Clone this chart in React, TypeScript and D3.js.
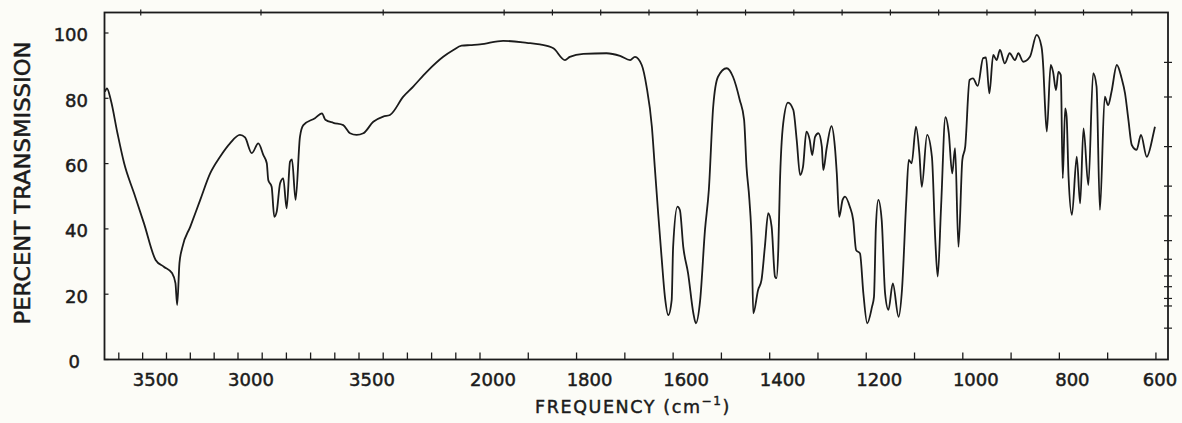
import React from "react";
import * as d3 from "d3";

// IR spectrum
const wavenumber = [
  3698, 3687, 3667, 3632, 3597, 3545, 3493, 3432, 3389, 3345, 3328, 3319, 3307, 3293, 3250, 3198,
  3146, 3094, 3042, 2992, 2971, 2943, 2916, 2895, 2881, 2875, 2861, 2850, 2840, 2826, 2813, 2799,
  2785, 2777, 2762, 2744, 2730, 2682, 2653, 2639, 2606, 2565, 2537, 2510, 2482, 2441, 2400, 2372,
  2317, 2276, 2220, 2152, 2110, 2076, 2041, 2000, 1952, 1903, 1876, 1848, 1824, 1814, 1786, 1738,
  1710, 1689, 1679, 1665, 1655, 1644, 1638, 1631, 1624, 1617, 1610, 1603, 1600, 1591, 1586, 1579,
  1569, 1558, 1553, 1544, 1534, 1526, 1517, 1507, 1489, 1476, 1462, 1453, 1448, 1442, 1437, 1434,
  1424, 1417, 1410, 1403, 1396, 1389, 1386, 1382, 1379, 1372, 1362, 1351, 1344, 1337, 1331, 1324,
  1317, 1312, 1306, 1299, 1292, 1289, 1282, 1272, 1265, 1261, 1256, 1249, 1244, 1234, 1227, 1221,
  1213, 1206, 1198, 1188, 1184, 1180, 1175, 1168, 1161, 1154, 1145, 1133, 1126, 1117, 1112, 1106,
  1097, 1090, 1085, 1074, 1064, 1057, 1052, 1045, 1036, 1029, 1022, 1016, 1009, 1001, 995, 986,
  979, 969, 958, 952, 945, 937, 930, 923, 913, 903, 892, 885, 875, 861, 847, 837,
  833, 830, 826, 818, 813, 807, 802, 797, 793, 788, 785, 781, 774, 764, 757, 750,
  740, 730, 723, 716, 706, 699, 692, 681, 671, 664, 657, 650, 640, 631, 619, 605, 602,
];

const transmission = [
  82, 83, 79.5, 69.3, 60.1, 50.9, 41.7, 30.5, 28.4, 26.4, 23.4, 16.7, 29.5, 34.1, 40.7, 48.9,
  57.0, 62.1, 66.2, 68.8, 68.0, 63.2, 66.2, 62.6, 60.1, 55, 52.9, 43.7, 45.3, 54, 55.5, 46.3,
  60.6, 61.3, 48.9, 68.2, 71.8, 73.9, 75.4, 73.4, 72.5, 71.8, 69.3, 68.8, 69.3, 72.8, 74.4, 74.9,
  80.5, 83.6, 88.1, 92.7, 94.8, 96.1, 96.3, 96.5, 97.6, 97.0, 96.5, 95.3, 91.7, 92.7, 93.6, 93.8,
  93.0, 91.7, 92.7, 90.2, 83.6, 71.3, 59.0, 44.8, 31.5, 19.2, 13.6, 18.2, 34.5, 46.8, 45.8, 34.5,
  26.4, 14.1, 11.1, 18.2, 39.7, 52, 77.4, 86.6, 89.2, 86.6, 79.5, 73.4, 59.0, 48.9, 34.5, 14.1,
  21.3, 24.3, 34.5, 44.8, 40.7, 25.4, 24.9, 34.5, 53, 72.3, 78.7, 76.4, 67.2, 56.5, 59.0, 69.8,
  67.2, 62.6, 68.2, 69.3, 65.2, 58.0, 64.7, 71.5, 65.2, 57, 43.7, 48.9, 49.9, 46.8, 42.7, 33.5,
  32.5, 20.3, 11.1, 16.2, 19.2, 40.7, 48.9, 42.7, 20.3, 15.2, 23.3, 13.1, 21.3, 48.9, 61.1, 60.1,
  71.3, 63.2, 52.9, 68.8, 62.1, 36.6, 25.4, 46.8, 74.2, 69.3, 57, 64.7, 34.5, 61.1, 65.2, 85.6,
  86.1, 83.8, 92.3, 92.5, 81.5, 93.3, 91.7, 94.8, 90.7, 93.8, 91.7, 93.8, 91.2, 92.7, 99.4, 95.8,
  88.7, 78.5, 69.8, 90.2, 88.1, 82.5, 88.1, 87.1, 55.5, 76.9, 74.4, 56, 44.3, 62.1, 47.8, 70.8,
  53.4, 87.7, 83.6, 45.8, 80.5, 77.9, 82, 90.2, 86.1, 81.5, 73.4, 65.7, 64.2, 68.8, 62.1, 69.3, 71.3,
];

// bottom axis: labelled ticks (labels as printed on the chart)
const xLabelValues = [3500, 3000, 2500, 2000, 1800, 1600, 1400, 1200, 1000, 800, 600];
const xLabels = ["3500", "3000", "3500", "2000", "1800", "1600", "1400", "1200", "1000", "800", "600"];
// small ticks along the bottom
const xMinorTicks = [3625, 3500, 3375, 3250, 3125, ...d3.range(3000, 599, -100)];
// ticks on the top edge
const xTopTicks = [3510, 2905, 2400, 1950, 1850, 1750, 1650, 1550, 1450, 1350, 1250, 1150, 1050, 950, 850, 750, 650];

const yTicks = [0, 20, 40, 60, 80, 100];
// uneven ticks on the right edge (absorbance scale), in %T
const yRightTicks = [91, 80.4, 65.2, 53.1, 44.0, 36.4, 30.7, 25.6, 22.3, 18.7, 16.4, 9.6];

const W = 1182;
const H = 423;
const left = 104.5;
const right = 1168;
const top = 12.5;
const bottom = 359.5;
const ink = "#1b1b1b";
const font = "'DejaVu Sans', 'Liberation Sans', sans-serif";

export default function App() {
  // chart paper: compressed scale above 2000 cm-1
  const x = d3.scaleLinear().domain([3700, 3000, 2000, 575]).range([left, 238, 480, right]);
  const y = d3.scaleLinear().domain([0, 100]).range([bottom, 33]);

  const points = wavenumber.map((w, i) => [w, transmission[i]] as [number, number]);
  const line = d3
    .line<[number, number]>()
    .x(d => x(d[0]))
    .y(d => y(d[1]))
    .curve(d3.curveMonotoneX);

  return (
    <svg
      width={W}
      height={H}
      style={{ position: "absolute", left: 0, top: 0, display: "block", background: "#fcfcf7" }}
    >
      {/* frame */}
      <rect x={left} y={top} width={right - left} height={bottom - top} fill="none" stroke={ink} strokeWidth={1.8} />

      {/* bottom ticks */}
      {xMinorTicks.map(t => (
        <line key={"b" + t} x1={x(t)} x2={x(t)} y1={bottom} y2={bottom - 7} stroke={ink} strokeWidth={1.3} />
      ))}
      {/* top ticks */}
      {xTopTicks.map(t => (
        <line key={"t" + t} x1={x(t)} x2={x(t)} y1={top - 3} y2={top + 3} stroke={ink} strokeWidth={1.2} />
      ))}
      {/* left ticks */}
      {yTicks.map(t => (
        <line key={"l" + t} x1={left} x2={left + 4} y1={y(t)} y2={y(t)} stroke={ink} strokeWidth={1.2} />
      ))}
      {/* right ticks */}
      {yRightTicks.map(t => (
        <line key={"r" + t} x1={right - 4} x2={right + 4} y1={y(t)} y2={y(t)} stroke={ink} strokeWidth={1.2} />
      ))}

      {/* spectrum */}
      <path d={line(points) || ""} fill="none" stroke={ink} strokeWidth={1.8} strokeLinejoin="round" />

      {/* tick labels */}
      <g fontFamily={font} fontSize={18} fill={ink} stroke={ink} strokeWidth={0.5}>
        {yTicks.map(t => (
          <text key={"yl" + t} x={t === 0 ? 80 : 88} y={y(t) + 2} dy="0.36em" textAnchor="end">
            {t}
          </text>
        ))}
        {xLabelValues.map((v, i) => (
          <text key={"xl" + v} x={Math.min(x(v) + 13, 1160)} y={386} textAnchor="middle">
            {xLabels[i]}
          </text>
        ))}
      </g>

      {/* axis titles */}
      <text
        x={633}
        y={413}
        textAnchor="middle"
        fontFamily={font}
        fontSize={17.5}
        letterSpacing={1.6}
        fill={ink}
        stroke={ink}
        strokeWidth={0.45}
      >
        FREQUENCY (cm
        <tspan dy={-8} fontSize={12}>
          −1
        </tspan>
        <tspan dy={8}>)</tspan>
      </text>
      <text
        transform="translate(22,183) rotate(-90)"
        textAnchor="middle"
        dy="0.36em"
        fontFamily={font}
        fontSize={22}
        textLength={283}
        lengthAdjust="spacingAndGlyphs"
        fill={ink}
        stroke={ink}
        strokeWidth={0.5}
      >
        PERCENT TRANSMISSION
      </text>
    </svg>
  );
}
